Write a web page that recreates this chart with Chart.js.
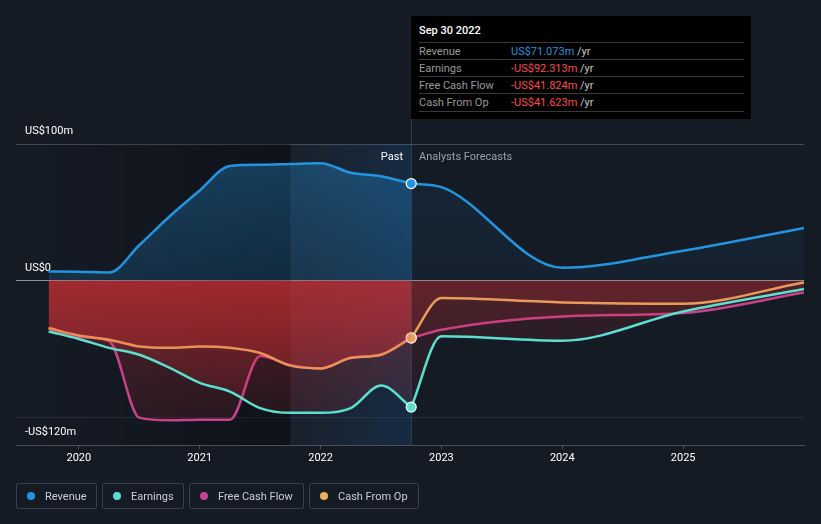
<!DOCTYPE html>
<html>
<head>
<meta charset="utf-8">
<script src="https://cdn.jsdelivr.net/npm/chart.js@4.4.0/dist/chart.umd.min.js"></script>
<style>
  body { margin: 0; background: #151b25; font-family: Roboto, sans-serif; width: 821px; height: 524px; overflow: hidden; position: relative; }
  #chart { position: absolute; left: 0; top: 0; }
  #tip { position: absolute; left: 411px; top: 16px; width: 340px; height: 103px; background: #000; }
  #tip .title { position: absolute; left: 8px; top: 8px; color: #fff; font-size: 11px; font-weight: 500; }
  #tip .rows { position: absolute; left: 8px; top: 25.5px; width: 325px; border-bottom: 1px solid #3a3a3a; }
  #tip .row { height: 16.3px; line-height: 17px; border-top: 1px solid #3a3a3a; font-size: 11px; color: #9a9a9a; white-space: nowrap; }
  #tip .lbl { display: inline-block; width: 92px; }
  #tip .blue { color: #2394df; }
  #tip .red { color: #ff4a4a; }
  #tip .unit { color: #c8c8c8; }
  .zone { position: absolute; top: 150px; font-size: 11px; }
  #past { right: 418px; color: #fff; }
  #fc { left: 419px; color: #9aa0a8; }
  #legend { position: absolute; left: 16px; top: 483px; display: flex; gap: 5px; }
  .item { box-sizing: border-box; height: 26px; border: 1px solid #3a404b; border-radius: 2px; display: flex; align-items: center; padding-left: 10px; font-size: 11px; color: #c9ced6; }
  .dot { width: 8px; height: 8px; border-radius: 50%; margin-right: 10px; }
</style>
</head>
<body>
<canvas id="chart" width="821" height="524"></canvas>
<div id="past" class="zone">Past</div>
<div id="fc" class="zone">Analysts Forecasts</div>
<div id="tip">
  <div class="title">Sep 30 2022</div>
  <div class="rows">
    <div class="row"><span class="lbl">Revenue</span><span class="blue">US$71.073m</span> <span class="unit">/yr</span></div>
    <div class="row"><span class="lbl">Earnings</span><span class="red">-US$92.313m</span> <span class="unit">/yr</span></div>
    <div class="row"><span class="lbl">Free Cash Flow</span><span class="red">-US$41.824m</span> <span class="unit">/yr</span></div>
    <div class="row"><span class="lbl">Cash From Op</span><span class="red">-US$41.623m</span> <span class="unit">/yr</span></div>
  </div>
</div>
<div id="legend"></div>
<script>
// Data (US$ millions, x in decimal years)
const pastDates = [2019.75, 2020.0, 2020.25, 2020.5, 2020.75, 2021.0, 2021.25, 2021.5, 2021.75, 2022.0, 2022.25, 2022.5, 2022.75];
const forecastDates = [2022.75, 2023.0, 2024.0, 2025.0, 2026.0];

const revenuePast = [6.8, 6.7, 6.0, 26, 47, 66, 84, 84.8, 85.4, 86, 79, 76.5, 71.073];
const revenueForecast = [71.073, 68.5, 9.5, 22, 38.7];
const earningsPast = [-37, -42.5, -49, -54, -63.5, -74.6, -81, -93, -96.5, -96.5, -93, -76.6, -92.313];
const earningsForecast = [-92.313, -40.6, -43.8, -22.4, -6];
const fcfPast = [-35, -41, -44, -100, -102, -101.5, -101.5, -55, -61.5, -64, -56, -54, -41.824];
const fcfForecast = [-41.824, -35.8, -26, -23.5, -8.5];
const cfoPast = [-34.5, -40, -43, -48, -49, -48, -49, -52.8, -62, -64, -56.4, -54, -41.623];
const cfoForecast = [-41.623, -12.6, -15.8, -16.8, -1.2];

const yearTicks = [2020, 2021, 2022, 2023, 2024, 2025];
const yTickValues = [100, 0, -100, -120];
const yTickLabels = ['US$100m', 'US$0', '', '-US$120m'];
const nowDate = 2022.75;
const highlightStart = 2021.75;

const seriesNames = ['Revenue', 'Earnings', 'Free Cash Flow', 'Cash From Op'];
const seriesColors = ['#2394df', '#5be0cf', '#c8418a', '#eaad5e'];

function pts(xs, ys) {
  return xs.map((x, i) => ({ x: x, y: ys[i] }));
}

// vertical gradient fill, strong near the zero line
function redFill(top, bottom) {
  return function (ctx) {
    const chart = ctx.chart;
    const area = chart.chartArea;
    if (!area) return 'rgba(0,0,0,0)';
    const y0 = chart.scales.y.getPixelForValue(0);
    const g = chart.ctx.createLinearGradient(0, y0, 0, area.bottom);
    g.addColorStop(0, 'rgba(225,50,55,' + top + ')');
    g.addColorStop(1, 'rgba(225,50,55,' + bottom + ')');
    return g;
  };
}

function blueFill(top, bottom) {
  return function (ctx) {
    const chart = ctx.chart;
    const area = chart.chartArea;
    if (!area) return 'rgba(0,0,0,0)';
    const y0 = chart.scales.y.getPixelForValue(0);
    const g = chart.ctx.createLinearGradient(0, area.top, 0, y0);
    g.addColorStop(0, 'rgba(35,148,223,' + top + ')');
    g.addColorStop(1, 'rgba(35,148,223,' + bottom + ')');
    return g;
  };
}

function lastPointRadius(ctx) {
  return ctx.dataIndex === pastDates.length - 1 ? 5 : 0;
}

function makeSet(label, data, color, fill, isPast, order) {
  return {
    label: label,
    data: data,
    borderColor: color,
    borderWidth: 2.5,
    backgroundColor: fill,
    fill: 'origin',
    cubicInterpolationMode: 'monotone',
    pointRadius: isPast ? lastPointRadius : 0,
    pointBackgroundColor: color,
    pointBorderColor: '#fff',
    pointBorderWidth: 1.2,
    order: order
  };
}

// background shading for the past year and the "now" line
const shading = {
  id: 'shading',
  beforeDatasetsDraw(chart) {
    const c = chart.ctx;
    const area = chart.chartArea;
    const x = chart.scales.x;
    const xStart = x.getPixelForValue(pastDates[0]);
    const xHi = x.getPixelForValue(highlightStart);
    const xNow = x.getPixelForValue(nowDate);
    c.save();
    let g = c.createLinearGradient(xStart, 0, xHi, 0);
    g.addColorStop(0, 'rgba(0,0,0,0)');
    g.addColorStop(1, 'rgba(0,0,0,0.3)');
    c.fillStyle = g;
    c.fillRect(xStart, area.top, xHi - xStart, area.bottom - area.top);
    g = c.createLinearGradient(xHi, 0, xNow, 0);
    g.addColorStop(0, 'rgba(60,90,120,0.10)');
    g.addColorStop(1, 'rgba(25,95,160,0.25)');
    c.fillStyle = g;
    c.fillRect(xHi, area.top, xNow - xHi, area.bottom - area.top);
    c.strokeStyle = 'rgba(120,150,180,0.25)';
    c.lineWidth = 1;
    c.beginPath();
    c.moveTo(Math.round(xNow) + 0.5, 119);
    c.lineTo(Math.round(xNow) + 0.5, area.bottom);
    c.stroke();
    c.restore();
  }
};

new Chart(document.getElementById('chart'), {
  type: 'line',
  data: {
    datasets: [
      makeSet('Revenue', pts(pastDates, revenuePast), seriesColors[0], blueFill(0.35, 0.18), true, 4),
      makeSet('Revenue forecast', pts(forecastDates, revenueForecast), seriesColors[0], blueFill(0.1, 0.05), false, 4),
      makeSet('Earnings', pts(pastDates, earningsPast), seriesColors[1], redFill(0.32, 0.07), true, 1),
      makeSet('Earnings forecast', pts(forecastDates, earningsForecast), seriesColors[1], redFill(0.15, 0.05), false, 1),
      makeSet('Free Cash Flow', pts(pastDates, fcfPast), seriesColors[2], redFill(0.32, 0.07), true, 3),
      makeSet('Free Cash Flow forecast', pts(forecastDates, fcfForecast), seriesColors[2], redFill(0.15, 0.05), false, 3),
      makeSet('Cash From Op', pts(pastDates, cfoPast), seriesColors[3], redFill(0.32, 0.07), true, 2),
      makeSet('Cash From Op forecast', pts(forecastDates, cfoForecast), seriesColors[3], redFill(0.15, 0.05), false, 2)
    ]
  },
  options: {
    responsive: false,
    animation: false,
    devicePixelRatio: 1,
    layout: { padding: { left: 16, right: 17, top: 144, bottom: 0 } },
    plugins: { legend: { display: false }, tooltip: { enabled: false } },
    scales: {
      x: {
        type: 'linear',
        min: 2019.48,
        max: 2026.0,
        afterFit(scale) { scale.height = 79; },
        afterBuildTicks(scale) { scale.ticks = yearTicks.map(v => ({ value: v })); },
        border: { display: true, color: '#4a505a' },
        grid: { drawOnChartArea: false, drawTicks: true, tickLength: 4, color: '#4a505a' },
        ticks: {
          color: '#ffffff',
          font: { family: 'Roboto', size: 11 },
          padding: 3,
          maxRotation: 0,
          callback: v => String(v)
        }
      },
      y: {
        min: -120,
        max: 100,
        afterFit(scale) { scale.width = 0; },
        afterBuildTicks(scale) { scale.ticks = yTickValues.map(v => ({ value: v })); },
        border: { display: false },
        grid: {
          drawTicks: false,
          color: ctx => {
            const v = ctx.tick && ctx.tick.value;
            if (v === 0) return '#8c9097';
            if (v === 100) return '#434a55';
            if (v === -100) return '#272d37';
            return 'rgba(0,0,0,0)';
          }
        },
        ticks: {
          mirror: true,
          padding: 9,
          labelOffset: -13,
          color: '#ffffff',
          font: { family: 'Roboto', size: 11 },
          callback: (v) => {
            const i = yTickValues.indexOf(v);
            return i >= 0 ? yTickLabels[i] : '';
          }
        }
      }
    }
  },
  plugins: [shading]
});

// legend
const legendWidths = [81, 82, 115, 110];
const legend = document.getElementById('legend');
seriesNames.forEach((name, i) => {
  const item = document.createElement('div');
  item.className = 'item';
  item.style.width = legendWidths[i] + 'px';
  const dot = document.createElement('span');
  dot.className = 'dot';
  dot.style.background = seriesColors[i];
  item.appendChild(dot);
  item.appendChild(document.createTextNode(name));
  legend.appendChild(item);
});
</script>
</body>
</html>
